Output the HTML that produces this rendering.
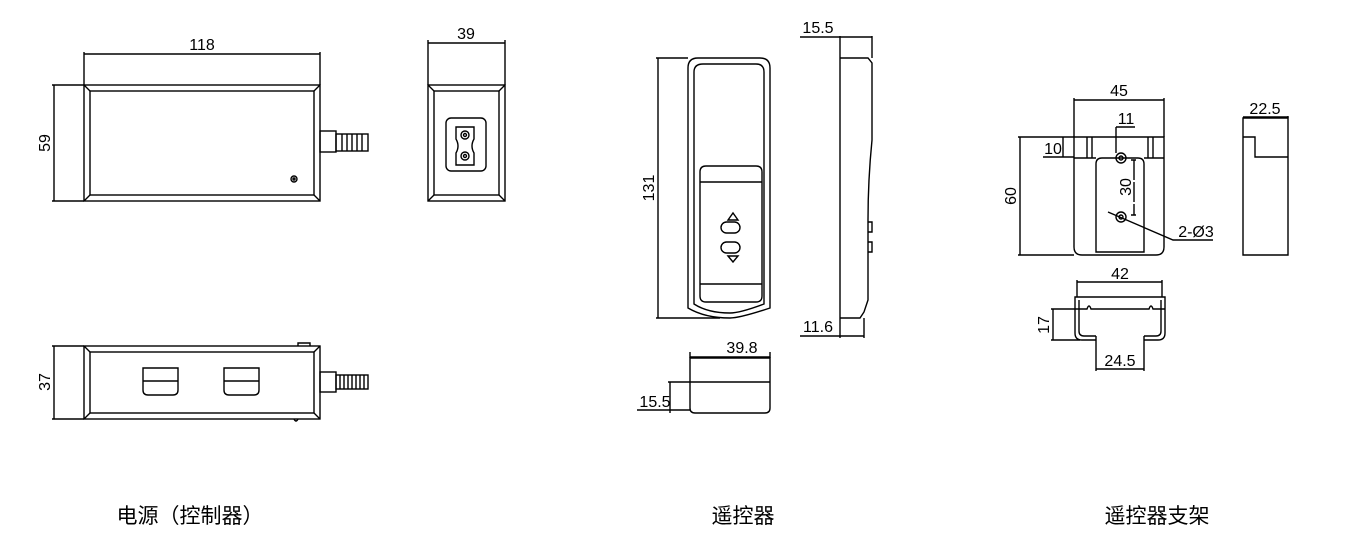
<!DOCTYPE html>
<html><head><meta charset="utf-8"><style>
html,body{margin:0;padding:0;background:#fff;}
svg{display:block}
text{font-family:"Liberation Sans","Noto Sans CJK SC",sans-serif;fill:#000}
</style></head><body>
<svg width="1360" height="555" viewBox="0 0 1360 555" xmlns="http://www.w3.org/2000/svg">
<g fill="none" stroke="#000" stroke-width="1.4">
<!-- controller top view -->
<rect x="84" y="85" width="236" height="116"/>
<rect x="90" y="91" width="224" height="104"/>
<path d="M84 85L90 91M320 85L314 91M84 201L90 195M320 201L314 195"/>
<path d="M84 52V85M320 52V85M84 54H320M52 85H84M52 201H84M54 85V201"/>
<rect x="320" y="131" width="16" height="21"/>
<rect x="336" y="134" width="32" height="17"/>
<path d="M342 134V151M347 134V151M352 134V151M357 134V151M362 134V151"/>
<circle cx="294" cy="179" r="3"/><circle cx="294" cy="179" r="1"/>
<!-- side view -->
<rect x="428" y="85" width="77" height="116"/>
<rect x="434" y="91" width="65" height="104"/>
<path d="M428 85L434 91M505 85L499 91M428 201L434 195M505 201L499 195"/>
<path d="M428 40V85M505 40V85M428 43H505"/>
<rect x="446" y="118" width="40" height="53" rx="5"/>
<path d="M456 127H474V139Q470 146 474 153V165H456V153Q460 146 456 139Z"/>
<circle cx="465" cy="135" r="4"/><circle cx="465" cy="156" r="4"/>
<circle cx="465" cy="135" r="1.5"/><circle cx="465" cy="156" r="1.5"/>
<!-- controller bottom view -->
<rect x="84" y="346" width="236" height="73"/>
<rect x="90" y="352" width="224" height="61"/>
<path d="M84 346L90 352M320 346L314 352M84 419L90 413M320 419L314 413"/>
<path d="M298 346V343H310V346M294 419Q296 423 298 419"/>
<path d="M52 346H84M52 419H84M54 346V419"/>
<path d="M143 368H178V390Q178 395 173 395H148Q143 395 143 390Z M143 381H178"/>
<path d="M224 368H259V390Q259 395 254 395H229Q224 395 224 390Z M224 381H259"/>
<rect x="320" y="372" width="16" height="20"/>
<rect x="336" y="375" width="32" height="14"/>
<path d="M340 375V389M344 375V389M348 375V389M352 375V389M356 375V389M360 375V389M364 375V389"/>
<!-- remote front -->
<path d="M698 58H760Q770 58 770 68V308Q740 318 730 318Q705 318 688 308V68Q688 58 698 58Z"/>
<path d="M703 64H756Q764 64 764 72V304Q740 313 730 313Q708 313 694 304V72Q694 64 703 64Z"/>
<path d="M700 172Q700 166 706 166H756Q762 166 762 172V296Q762 302 756 302H706Q700 302 700 296Z"/>
<path d="M700 182H762M700 284H762"/>
<path d="M728 220L733 213L738 220Z M728 256L733 262L738 256Z"/>
<rect x="721" y="222" width="19" height="11" rx="5.5"/>
<rect x="721" y="242" width="19" height="11" rx="5.5"/>
<path d="M656 58H688M656 318H720M658 58V318"/>
<!-- remote side -->
<path d="M840 36V338M872 36V58M864 318V338M800 37H872M800 336H864"/>
<path d="M840 58H868L872 63V140Q868 180 868 220V300L864 312L860 318H840"/>
<path d="M868 222H872V232H868M868 242H872V252H868"/>
<!-- remote bottom -->
<path d="M690 358H770V408Q770 413 765 413H695Q690 413 690 408Z M690 382H770"/>
<path d="M690 352V358M770 352V358M690 357H770"/>
<path d="M668 382H690M637 410H690M670 382V413"/>
<!-- bracket front -->
<path d="M1074 137H1164V247Q1164 255 1156 255H1082Q1074 255 1074 247Z"/>
<path d="M1096 252V164Q1096 158 1102 158H1138Q1144 158 1144 164V252Z"/>
<path d="M1074 158H1096M1144 158H1164M1087 137V158M1092 137V158M1148 137V158M1153 137V158"/>
<circle cx="1121" cy="158" r="5"/><circle cx="1121" cy="158" r="2"/>
<circle cx="1121" cy="217" r="5"/><circle cx="1121" cy="217" r="2"/>
<path d="M1074 98V137M1164 98V137M1074 100H1164"/>
<path d="M1018 137H1074M1018 255H1074M1020 137V255"/>
<path d="M1043 157H1074M1063 137V157"/>
<path d="M1116 127H1135M1116 127V153"/>
<path d="M1134 160V215" stroke-dasharray="20 2"/>
<path d="M1131 160H1136M1131 215H1136"/>
<path d="M1108 212L1173 240H1213"/>
<!-- bracket side -->
<path d="M1243 118H1288V255H1243Z M1243 137H1255V157H1288"/>
<path d="M1288 116V118M1243 117H1288"/>
<!-- bracket bottom -->
<path d="M1096 340H1082Q1075 340 1075 333V297H1165V333Q1165 340 1158 340H1144"/>
<path d="M1096 336H1084Q1079 336 1079 331V300M1144 336H1156Q1161 336 1161 331V300"/>
<path d="M1075 309H1087Q1089 303 1091 309H1149Q1151 303 1153 309H1165"/>
<path d="M1096 336V371M1144 336V371M1096 369H1144"/>
<path d="M1077 280V297M1162 280V297M1077 282H1162"/>
<path d="M1051 309H1075M1051 340H1080M1053 309V340"/>
</g>
<g font-size="16">
<text x="202" y="50" text-anchor="middle">118</text>
<text transform="translate(50,143) rotate(-90)" text-anchor="middle">59</text>
<text x="466" y="39" text-anchor="middle">39</text>
<text transform="translate(50,382) rotate(-90)" text-anchor="middle">37</text>
<text transform="translate(654,188) rotate(-90)" text-anchor="middle">131</text>
<text x="818" y="33" text-anchor="middle">15.5</text>
<text x="818" y="332" text-anchor="middle">11.6</text>
<text x="742" y="353" text-anchor="middle">39.8</text>
<text x="655" y="407" text-anchor="middle">15.5</text>
<text x="1119" y="96" text-anchor="middle">45</text>
<text x="1265" y="114" text-anchor="middle">22.5</text>
<text transform="translate(1016,196) rotate(-90)" text-anchor="middle">60</text>
<text x="1053" y="154" text-anchor="middle">10</text>
<text x="1126" y="124" text-anchor="middle">11</text>
<text transform="translate(1131,187) rotate(-90)" text-anchor="middle">30</text>
<text x="1196" y="237" text-anchor="middle">2-Ø3</text>
<text x="1120" y="279" text-anchor="middle">42</text>
<text transform="translate(1049,325) rotate(-90)" text-anchor="middle">17</text>
<text x="1120" y="366" text-anchor="middle">24.5</text>
</g>
<g font-size="21">
<text x="190" y="523" text-anchor="middle">电源（控制器）</text>
<text x="743" y="523" text-anchor="middle">遥控器</text>
<text x="1157" y="523" text-anchor="middle">遥控器支架</text>
</g>
</svg>
</body></html>
